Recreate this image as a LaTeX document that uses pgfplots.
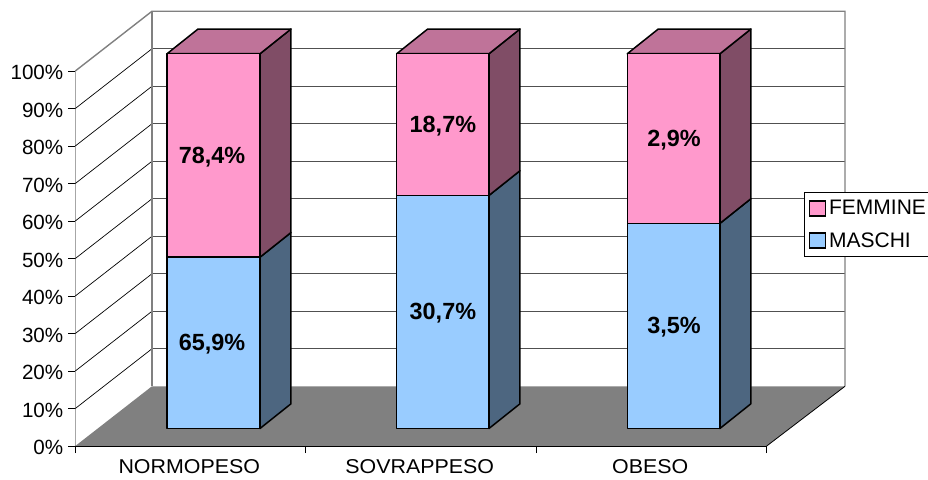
\documentclass[border=0pt]{standalone}
\usepackage{pgfplots}
\pgfplotsset{compat=1.18}
\usepackage{fontspec}
\setmainfont{Liberation Sans}
\definecolor{femF}{HTML}{FF99CC}
\definecolor{femS}{HTML}{804D66}
\definecolor{femT}{HTML}{BF7399}
\definecolor{masF}{HTML}{99CCFF}
\definecolor{masS}{HTML}{4D6680}
\definecolor{wallG}{HTML}{808080}
\definecolor{gridG}{HTML}{505050}
\begin{document}
\begin{tikzpicture}[x=1pt,y=1pt]
\useasboundingbox (0,0) rectangle (928,479);
\begin{axis}[
  at={(75.3pt,33pt)}, anchor=south west,
  scale only axis, width=691.4pt, height=375pt,
  clip=false,
  xmin=0, xmax=3, ymin=0, ymax=100,
  axis x line*=bottom, axis y line*=left,
  axis line style={black,line width=0.9pt,-},
  tick style={black,line width=0.9pt},
  tick align=outside,
  major tick length=7pt,
  xtick={0,1,2,3}, xticklabels={},
  extra x ticks={0.5,1.5,2.5},
  extra x tick labels={NORMOPESO,SOVRAPPESO,OBESO},
  extra x tick style={major tick length=0pt, tick style={draw=none}},
  x tick label style={font=\fontsize{20}{24}\selectfont, xscale=1.07, yshift=-12pt, xshift=-1.2pt, inner ysep=1pt},
  ytick={0,10,...,100},
  yticklabel={\pgfmathprintnumber{\tick}\%},
  y tick label style={font=\fontsize{20.6}{24}\selectfont, xshift=-1.5pt, yshift=-1.5pt},
  /pgf/number format/assume math mode=true,
  legend style={at={(axis cs:3.1598,67.7)}, anchor=north west, draw=black, line width=0.8pt,
    fill=white, font=\fontsize{21}{24}\selectfont, inner xsep=5pt, inner ysep=6pt,
    row sep=12pt, /tikz/every even column/.append style={column sep=3pt}},
  legend cell align=left,
  legend image code/.code={\draw[#1,line width=1.2pt] (0pt,-7.5pt) rectangle (16pt,7.5pt);},
]
% walls
\addplot[forget plot,fill=white,draw=none] coordinates {(0,0)(0,100)(.3325,115.92)(3.3397,115.92)(3.3397,15.92)(.3325,15.92)} --cycle;
% side wall grid
\addplot[forget plot,black,line width=0.7pt] coordinates {(0,10)(.3325,25.92)};
\addplot[forget plot,black,line width=0.7pt] coordinates {(0,20)(.3325,35.92)};
\addplot[forget plot,black,line width=0.7pt] coordinates {(0,30)(.3325,45.92)};
\addplot[forget plot,black,line width=0.7pt] coordinates {(0,40)(.3325,55.92)};
\addplot[forget plot,black,line width=0.7pt] coordinates {(0,50)(.3325,65.92)};
\addplot[forget plot,black,line width=0.7pt] coordinates {(0,60)(.3325,75.92)};
\addplot[forget plot,black,line width=0.7pt] coordinates {(0,70)(.3325,85.92)};
\addplot[forget plot,black,line width=0.7pt] coordinates {(0,80)(.3325,95.92)};
\addplot[forget plot,black,line width=0.7pt] coordinates {(0,90)(.3325,105.92)};
% back wall grid
\addplot[forget plot,gridG,line width=0.9pt] coordinates {(.3325,25.92)(3.3397,25.92)};
\addplot[forget plot,gridG,line width=0.9pt] coordinates {(.3325,35.92)(3.3397,35.92)};
\addplot[forget plot,gridG,line width=0.9pt] coordinates {(.3325,45.92)(3.3397,45.92)};
\addplot[forget plot,gridG,line width=0.9pt] coordinates {(.3325,55.92)(3.3397,55.92)};
\addplot[forget plot,gridG,line width=0.9pt] coordinates {(.3325,65.92)(3.3397,65.92)};
\addplot[forget plot,gridG,line width=0.9pt] coordinates {(.3325,75.92)(3.3397,75.92)};
\addplot[forget plot,gridG,line width=0.9pt] coordinates {(.3325,85.92)(3.3397,85.92)};
\addplot[forget plot,gridG,line width=0.9pt] coordinates {(.3325,95.92)(3.3397,95.92)};
\addplot[forget plot,gridG,line width=0.9pt] coordinates {(.3325,105.92)(3.3397,105.92)};
% wall outline
\addplot[forget plot,wallG,line width=1.4pt] coordinates {(0,100)(.3325,115.92)(3.3397,115.92)(3.3397,15.92)};
\addplot[forget plot,wallG,line width=1.4pt] coordinates {(.3325,115.92)(.3325,15.92)};
% floor
\addplot[forget plot,fill=wallG,draw=none] coordinates {(0,0)(.3325,15.92)(3.3397,15.92)(3,0)} --cycle;
\addplot[forget plot,black,line width=0.8pt] coordinates {(3,0)(3.3397,15.92)};
\addplot[forget plot,black,line width=0.9pt] coordinates {(0,0)(3,0)};
% bars: front left, front right, back offset .1345 / 6.59; base 4.67, split, top 104.6
\pgfplotsset{bar/.style={forget plot,draw=black,line width=1.5pt,line join=round}}
% NORMOPESO
\addplot[bar,fill=masS] coordinates {(.8014,4.67)(.9359,11.26)(.9359,56.93)(.8014,50.34)} --cycle;
\addplot[bar,fill=femS] coordinates {(.8014,50.34)(.9359,56.93)(.9359,111.19)(.8014,104.6)} --cycle;
\addplot[bar,fill=femT] coordinates {(.398,104.6)(.5325,111.19)(.9359,111.19)(.8014,104.6)} --cycle;
\addplot[bar,fill=masF] coordinates {(.398,4.67)(.8014,4.67)(.8014,50.34)(.398,50.34)} --cycle;
\addplot[bar,fill=femF] coordinates {(.398,50.34)(.8014,50.34)(.8014,104.6)(.398,104.6)} --cycle;
% SOVRAPPESO
\addplot[bar,fill=masS] coordinates {(1.795,4.67)(1.9295,11.26)(1.9295,73.41)(1.795,66.82)} --cycle;
\addplot[bar,fill=femS] coordinates {(1.795,66.82)(1.9295,73.41)(1.9295,111.19)(1.795,104.6)} --cycle;
\addplot[bar,fill=femT] coordinates {(1.3945,104.6)(1.529,111.19)(1.9295,111.19)(1.795,104.6)} --cycle;
\addplot[bar,fill=masF] coordinates {(1.3945,4.67)(1.795,4.67)(1.795,66.82)(1.3945,66.82)} --cycle;
\addplot[bar,fill=femF] coordinates {(1.3945,66.82)(1.795,66.82)(1.795,104.6)(1.3945,104.6)} --cycle;
% OBESO
\addplot[bar,fill=masS] coordinates {(2.797,4.67)(2.9315,11.26)(2.9315,65.95)(2.797,59.36)} --cycle;
\addplot[bar,fill=femS] coordinates {(2.797,59.36)(2.9315,65.95)(2.9315,111.19)(2.797,104.6)} --cycle;
\addplot[bar,fill=femT] coordinates {(2.395,104.6)(2.5295,111.19)(2.9315,111.19)(2.797,104.6)} --cycle;
\addplot[bar,fill=masF] coordinates {(2.395,4.67)(2.797,4.67)(2.797,59.36)(2.395,59.36)} --cycle;
\addplot[bar,fill=femF] coordinates {(2.395,59.36)(2.797,59.36)(2.797,104.6)(2.395,104.6)} --cycle;
% data labels
\addplot[forget plot,draw=none,mark=none,
  nodes near coords, point meta=explicit symbolic,
  nodes near coords style={anchor=center,font=\fontsize{23.4}{26}\selectfont\bfseries,text=black}]
  table[meta=lab,row sep=\\] {
  x y lab\\
  .593 77.1 78,4\%\\
  .593 27.2 65,9\%\\
  1.595 85.4 18,7\%\\
  1.595 35.5 30,7\%\\
  2.598 81.6 2,9\%\\
  2.598 31.8 3,5\%\\
  };
\addlegendimage{fill=femF,draw=black}
\addlegendentry{\hspace{1pt}FEMMINE}
\addlegendimage{fill=masF,draw=black}
\addlegendentry{\hspace{1pt}MASCHI}
\end{axis}
\end{tikzpicture}
\end{document}
